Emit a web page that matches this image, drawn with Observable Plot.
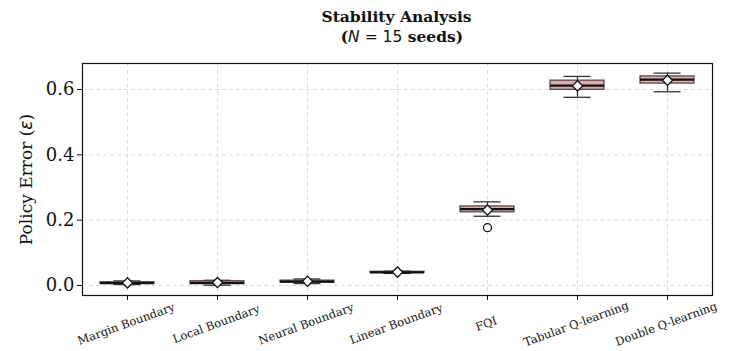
<!DOCTYPE html>
<html>
<head>
<meta charset="utf-8">
<script src="https://cdn.jsdelivr.net/npm/d3@7"></script>
<script src="https://cdn.jsdelivr.net/npm/@observablehq/plot@0.6"></script>
<style>
  body { margin: 0; background: white; }
  #title { width: 735px; height: 56px; box-sizing: border-box; padding-top: 7px; padding-left: 58px;
           text-align: center; font-family: "DejaVu Serif", serif; font-weight: bold; font-size: 15.5px; line-height: 20px; color: #111; }
  .m { font-family: "DejaVu Sans", sans-serif; font-weight: normal; }
</style>
</head>
<body>
<div id="title">Stability Analysis<br>&nbsp;&nbsp;(<span class="m"><i>N</i> = 15</span> seeds)</div>
<div id="chart"></div>
<script>
const categories = ["Margin Boundary", "Local Boundary", "Neural Boundary", "Linear Boundary", "FQI", "Tabular Q-learning", "Double Q-learning"];
const whiskerLow  = [0.003, 0.001, 0.006, 0.037, 0.212, 0.576, 0.593];
const q1          = [0.005, 0.004, 0.009, 0.039, 0.224, 0.599, 0.618];
const medians     = [0.007, 0.008, 0.012, 0.040, 0.234, 0.612, 0.630];
const q3          = [0.010, 0.013, 0.015, 0.042, 0.242, 0.627, 0.640];
const whiskerHigh = [0.014, 0.016, 0.020, 0.044, 0.256, 0.640, 0.650];
const means       = [0.008, 0.009, 0.013, 0.041, 0.231, 0.611, 0.628];
const outlierCats = ["FQI"];
const outlierVals = [0.177];
const yTicks = [0, 0.2, 0.4, 0.6];

const rows = categories.map((c, i) => ({
  cat: c, pos: i + 1, lo: whiskerLow[i], q1: q1[i], med: medians[i], q3: q3[i], hi: whiskerHigh[i], mean: means[i]
}));
const outliers = outlierCats.map((c, i) => ({pos: categories.indexOf(c) + 1, v: outlierVals[i]}));
const half = 0.3, capHalf = 0.15;

const chart = Plot.plot({
  width: 735,
  height: 295,
  marginTop: 7,
  marginBottom: 56,
  marginLeft: 82,
  marginRight: 23,
  style: {fontFamily: "DejaVu Serif, serif", color: "#111", background: "white"},
  x: {domain: [0.5, 7.5], axis: null},
  y: {domain: [-0.0306, 0.6795], axis: null},
  marks: [
    Plot.gridY(yTicks, {stroke: "#d4d4d4", strokeOpacity: 0.8, strokeDasharray: "4,3"}),
    Plot.gridX(rows.map(d => d.pos), {stroke: "#d4d4d4", strokeOpacity: 0.8, strokeDasharray: "4,3"}),
    Plot.ruleX(rows, {x: "pos", y1: "lo", y2: "q1", stroke: "#333", strokeWidth: 1.3}),
    Plot.ruleX(rows, {x: "pos", y1: "q3", y2: "hi", stroke: "#333", strokeWidth: 1.3}),
    Plot.ruleY(rows, {y: "lo", x1: d => d.pos - capHalf, x2: d => d.pos + capHalf, stroke: "#333", strokeWidth: 1.3}),
    Plot.ruleY(rows, {y: "hi", x1: d => d.pos - capHalf, x2: d => d.pos + capHalf, stroke: "#333", strokeWidth: 1.3}),
    Plot.rect(rows, {x1: d => d.pos - half, x2: d => d.pos + half, y1: "q1", y2: "q3", fill: "#d69e9e", fillOpacity: 0.85, stroke: "#444", strokeWidth: 1.2}),
    Plot.ruleY(rows, {y: "med", x1: d => d.pos - half, x2: d => d.pos + half, stroke: "#111", strokeWidth: 2.2}),
    Plot.dot(outliers, {x: "pos", y: "v", r: 4, stroke: "#111", strokeWidth: 1.3, fill: "white"}),
    Plot.dot(rows, {x: "pos", y: "mean", symbol: "diamond2", r: 4.6, fill: "white", stroke: "#111", strokeWidth: 1.3}),
    Plot.frame({stroke: "#111", strokeWidth: 1.2}),
    Plot.axisY(yTicks, {tickFormat: d3.format(".1f"), fontSize: 18, tickSize: 5, tickPadding: 3, label: null, stroke: "#111"}),
    Plot.axisX(rows.map(d => d.pos), {tickFormat: () => "", tickSize: 5, label: null, stroke: "#111"}),
    Plot.text(rows, {x: "pos", text: "cat", frameAnchor: "bottom", dy: 32, rotate: -20, fontSize: 11.5, textAnchor: "middle", fill: "#111"}),
    Plot.text([0], {text: () => "Policy Error (ε)", frameAnchor: "left", dx: -56, rotate: -90, fontSize: 17, textAnchor: "middle", fill: "#111"})
  ]
});
document.getElementById("chart").appendChild(chart);
// italicize epsilon in y label
chart.querySelectorAll("text").forEach(t => {
  if (t.textContent === "Policy Error (ε)") {
    t.textContent = "";
    const a = document.createElementNS("http://www.w3.org/2000/svg", "tspan"); a.textContent = "Policy Error (";
    const b = document.createElementNS("http://www.w3.org/2000/svg", "tspan"); b.textContent = "ε"; b.setAttribute("font-style", "italic"); b.setAttribute("font-family", "DejaVu Sans");
    const c = document.createElementNS("http://www.w3.org/2000/svg", "tspan"); c.textContent = ")";
    t.append(a, b, c);
  }
});
</script>
</body>
</html>
